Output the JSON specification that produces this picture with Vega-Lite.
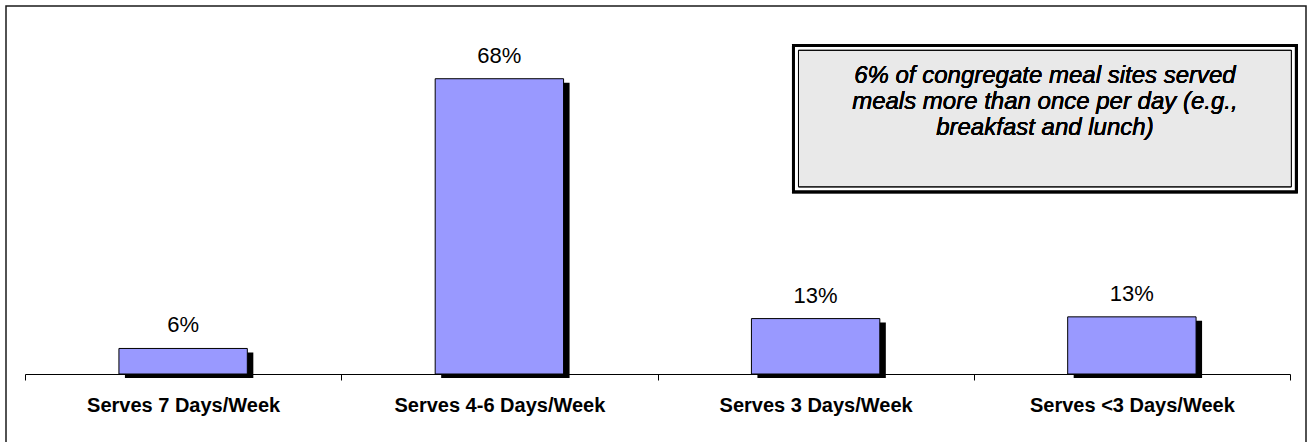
{
  "$schema": "https://vega.github.io/schema/vega-lite/v6.json",
  "width": 1300,
  "height": 440,
  "autosize": {"type": "none"},
  "padding": {"left": 6, "top": 6, "right": 6, "bottom": 0},
  "background": "white",
  "config": {
    "view": {"stroke": "#1a1a1a", "strokeWidth": 1.5},
    "font": "Liberation Sans"
  },
  "data": {
    "values": [
      {"cat": "Serves 7 Days/Week", "value": 5.9, "label": "6%"},
      {"cat": "Serves 4-6 Days/Week", "value": 68.2, "label": "68%"},
      {"cat": "Serves 3 Days/Week", "value": 12.8, "label": "13%"},
      {"cat": "Serves <3 Days/Week", "value": 13.2, "label": "13%"}
    ]
  },
  "encoding": {
    "x": {
      "field": "cat",
      "type": "nominal",
      "sort": null,
      "scale": {"range": [19, 1284], "paddingInner": 0, "paddingOuter": 0},
      "axis": {
        "title": null,
        "orient": "bottom",
        "offset": -72,
        "tickBand": "extent",
        "domainColor": "#000000",
        "domainWidth": 1,
        "tickColor": "#000000",
        "tickSize": 6,
        "labelAngle": 0,
        "labelFont": "Liberation Sans",
        "labelFontSize": 20,
        "labelFontWeight": "bold",
        "labelColor": "#000000",
        "labelPadding": 15,
        "labelLimit": 0,
        "grid": false
      }
    },
    "y": {
      "field": "value",
      "type": "quantitative",
      "scale": {"domain": [0, 85], "range": [368, 0], "nice": false},
      "axis": null
    }
  },
  "layer": [
    {
      "mark": {"type": "bar", "fill": "#000000", "xOffset": 6, "yOffset": 4, "width": {"band": 0.406}}
    },
    {
      "mark": {"type": "bar", "fill": "#9999ff", "stroke": "#000000", "strokeWidth": 1, "width": {"band": 0.406}}
    },
    {
      "mark": {"type": "text", "baseline": "alphabetic", "dy": -16, "fontSize": 22, "font": "Liberation Sans", "fontWeight": "normal", "color": "#000000"},
      "encoding": {"text": {"field": "label"}}
    },
    {
      "mark": {"type": "rect", "fill": "#ffffff", "stroke": "#000000", "strokeWidth": 3},
      "encoding": {
        "x": {"datum": "Serves 3 Days/Week", "bandPosition": 0.43},
        "x2": {"datum": "Serves <3 Days/Week", "bandPosition": 1.02},
        "y": {"datum": 75.9},
        "y2": {"datum": 42.1}
      }
    },
    {
      "mark": {"type": "rect", "fill": "#e9e9e9", "stroke": "#000000", "strokeWidth": 1, "xOffset": 5, "x2Offset": -5, "yOffset": 5, "y2Offset": -5},
      "encoding": {
        "x": {"datum": "Serves 3 Days/Week", "bandPosition": 0.43},
        "x2": {"datum": "Serves <3 Days/Week", "bandPosition": 1.02},
        "y": {"datum": 75.9},
        "y2": {"datum": 42.1}
      }
    },
    {
      "mark": {
        "type": "text",
        "text": ["6% of congregate meal sites served", "meals more than once per day (e.g.,", "breakfast and lunch)"],
        "fontSize": 24,
        "fontStyle": "italic",
        "fontWeight": "normal",
        "font": "Liberation Sans",
        "baseline": "alphabetic",
        "align": "center",
        "lineHeight": 26,
        "color": "#000000"
      },
      "encoding": {
        "x": {"datum": "Serves <3 Days/Week", "bandPosition": 0.225},
        "y": {"datum": 67.2},
        "text": null
      }
    }
  ]
}
